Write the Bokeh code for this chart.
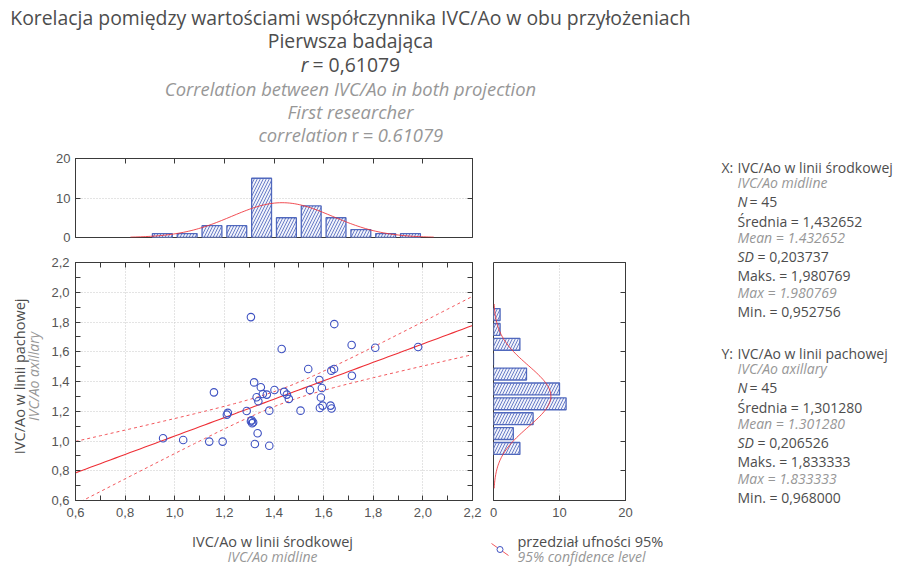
import numpy as np
from bokeh.plotting import figure
from bokeh.layouts import column, row
from bokeh.models import Range1d, FixedTicker, CustomJSTickFormatter, LinearAxis
from bokeh.core.properties import value
from bokeh.embed import file_html
from bokeh.resources import INLINE

# ---------------- data ----------------
x_midline = [0.953, 1.034, 1.139, 1.158, 1.193, 1.210, 1.214, 1.290, 1.307, 1.307,
             1.312, 1.316, 1.310, 1.320, 1.323, 1.330, 1.337, 1.334, 1.347, 1.355,
             1.371, 1.381, 1.381, 1.402, 1.431, 1.441, 1.452, 1.460, 1.507, 1.538,
             1.545, 1.583, 1.585, 1.589, 1.593, 1.596, 1.628, 1.631, 1.632, 1.642,
             1.643, 1.713, 1.714, 1.808, 1.981]
y_axillary = [1.018, 1.007, 0.996, 1.327, 0.996, 1.177, 1.189, 1.202, 1.833, 1.133,
              1.119, 1.126, 1.140, 1.394, 0.980, 1.294, 1.267, 1.052, 1.361, 1.316,
              1.312, 1.204, 0.968, 1.343, 1.618, 1.330, 1.312, 1.283, 1.204, 1.484,
              1.343, 1.410, 1.222, 1.292, 1.356, 1.238, 1.238, 1.473, 1.218, 1.484,
              1.786, 1.645, 1.439, 1.627, 1.632]

x_bin_starts = [0.9, 1.0, 1.1, 1.2, 1.3, 1.4, 1.5, 1.6, 1.7, 1.8, 1.9]
x_bin_counts = [1, 1, 3, 3, 15, 5, 8, 5, 2, 1, 1]
y_bin_starts = [0.9, 1.0, 1.1, 1.2, 1.3, 1.4, 1.5, 1.6, 1.7, 1.8]
y_bin_counts = [4, 3, 6, 11, 10, 5, 0, 4, 1, 1]
bin_width = 0.1

value_ticks = [0.6, 0.8, 1.0, 1.2, 1.4, 1.6, 1.8, 2.0, 2.2]
value_minor_ticks = [0.7, 0.9, 1.1, 1.3, 1.5, 1.7, 1.9, 2.1]
count_ticks = [0, 10, 20]

n_obs = 45
mean_x, sd_x, max_x, min_x = 1.432652, 0.203737, 1.980769, 0.952756
mean_y, sd_y, max_y, min_y = 1.301280, 0.206526, 1.833333, 0.968000
r_value = 0.61079
t_crit = 2.0167  # t(0.975, 43)

# ---------------- styles ----------------
DARK = "#4d4d4d"
GRAY = "#979797"
AX = "#3a3a3a"
TICKLAB = "#555555"
BLUE = "#3f52c2"
BAR_LINE = "#5068bd"
BAR_HATCH = "#6a7ec8"
BAR_FILL = "#f0f2fa"
RED = "#ee2f36"
RED_LIGHT = "#f2575c"
FONT = "Open Sans"
TFONT = "Liberation Sans"

comma_fmt = CustomJSTickFormatter(code="return tick.toFixed(1).replace('.', ',');")


def fmt_pl(v):
    return f"{v:.6f}".replace(".", ",")


def style_axis(ax, labels=True):
    ax.axis_line_color = AX
    ax.major_tick_line_color = AX
    ax.minor_tick_line_color = AX
    ax.major_tick_in = 5
    ax.major_tick_out = 0
    ax.minor_tick_in = 5
    ax.minor_tick_out = 0
    ax.major_label_text_font = TFONT
    ax.major_label_text_font_size = "13px"
    ax.major_label_text_color = TICKLAB
    if not labels:
        ax.formatter = CustomJSTickFormatter(code="return '';")
        ax.major_label_standoff = 0


def text_fig(w, h, flip=True):
    f = figure(width=w, height=h, x_range=Range1d(0, w),
               y_range=Range1d(h, 0) if flip else Range1d(0, h),
               output_backend="svg", toolbar_location=None, min_border=0,
               x_axis_location=None, y_axis_location=None)
    f.grid.visible = False
    f.outline_line_color = None
    f.border_fill_color = "white"
    f.background_fill_color = "white"
    return f


def put(f, x, y, s, size="14px", color=DARK, italic=False, align="left", angle=0):
    f.text(x=[x], y=[y], text=[s], text_font=value(FONT), text_font_size=size,
           text_color=color, text_align=align, text_baseline="middle",
           text_font_style="italic" if italic else "normal", angle=angle)


# ---------------- derived model curves ----------------
slope = r_value * sd_y / sd_x
intercept = mean_y - slope * mean_x
s_e = sd_y * np.sqrt((1 - r_value ** 2) * (n_obs - 1) / (n_obs - 2))
sxx = (n_obs - 1) * sd_x ** 2
reg_x = np.linspace(0.6, 2.2, 81)
reg_y = intercept + slope * reg_x
se_fit = s_e * np.sqrt(1.0 / n_obs + (reg_x - mean_x) ** 2 / sxx)
upper = reg_y + t_crit * se_fit
lower = reg_y - t_crit * se_fit

nx = np.linspace(mean_x - 3 * sd_x, mean_x + 3 * sd_x, 121)
nx_counts = n_obs * bin_width * np.exp(-0.5 * ((nx - mean_x) / sd_x) ** 2) / (sd_x * np.sqrt(2 * np.pi))
ny = np.linspace(mean_y - 3 * sd_y, mean_y + 3 * sd_y, 121)
ny_counts = n_obs * bin_width * np.exp(-0.5 * ((ny - mean_y) / sd_y) ** 2) / (sd_y * np.sqrt(2 * np.pi))

x_centers = [s + bin_width / 2 for s in x_bin_starts]
y_centers = [s + bin_width / 2 for s in y_bin_starts]

# ---------------- title ----------------
TS = "19.4px"
TI = "18.4px"
title = text_fig(900, 148)
put(title, 350, 17, "Korelacja pomiędzy wartościami współczynnika IVC/Ao w obu przyłożeniach", size=TS, align="center")
put(title, 350, 40, "Pierwsza badająca", size=TS, align="center")
put(title, 308, 64, "r", size=TS, italic=True, align="right")
put(title, 312, 64, f"= {r_value:.5f}".replace(".", ","), size=TS, align="left")
put(title, 350, 88, "Correlation between IVC/Ao in both projection", size=TI, color=GRAY, italic=True, align="center")
put(title, 350, 111, "First researcher", size=TI, color=GRAY, italic=True, align="center")
put(title, 347, 134, "correlation", size=TI, color=GRAY, italic=True, align="right")
put(title, 351, 134, "r", size=TI, color=GRAY, align="left")
put(title, 362, 134, f"= {r_value:.5f}", size=TI, color=GRAY, italic=True, align="left")

# ---------------- top histogram ----------------
top = figure(width=712, height=102, x_range=Range1d(0.6, 2.2), y_range=Range1d(0, 20),
             output_backend="svg", toolbar_location=None,
             min_border_left=75, min_border_right=240, min_border_top=10, min_border_bottom=13,
             x_axis_location="above", y_axis_location="left")
top.vbar(x=x_centers, top=x_bin_counts, bottom=0, width=0.08,
         fill_color=BAR_FILL, line_color=BAR_LINE, line_width=1.3,
         hatch_pattern="/", hatch_color=BAR_HATCH, hatch_scale=6, hatch_weight=1)
top.line(nx, nx_counts, line_color=RED, line_width=1, line_alpha=0.85)
top.xaxis.ticker = FixedTicker(ticks=value_ticks)
top.yaxis.ticker = FixedTicker(ticks=count_ticks)
style_axis(top.xaxis[0], labels=False)
style_axis(top.yaxis[0])
top.yaxis.major_label_standoff = 5
ra = LinearAxis(ticker=FixedTicker(ticks=count_ticks))
style_axis(ra, labels=False)
top.add_layout(ra, "right")
top.xgrid.visible = False
top.ygrid.ticker = FixedTicker(ticks=[10])
top.ygrid.grid_line_color = "#c8c8c8"
top.ygrid.grid_line_dash = "1 2"
top.outline_line_color = AX

# ---------------- scatter ----------------
sc = figure(width=434, height=278, x_range=Range1d(0.6, 2.2), y_range=Range1d(0.6, 2.2),
            output_backend="svg", toolbar_location=None,
            min_border_left=27, min_border_right=10, min_border_top=12, min_border_bottom=28)
sc.line(reg_x, reg_y, line_color=RED, line_width=1.1)
sc.line(reg_x, upper, line_color=RED_LIGHT, line_width=1, line_dash="3 3")
sc.line(reg_x, lower, line_color=RED_LIGHT, line_width=1, line_dash="3 3")
sc.scatter(x_midline, y_axillary, marker="circle", size=7.5, fill_color=None,
           line_color=BLUE, line_width=1.1)
for ax in (sc.xaxis[0], sc.yaxis[0]):
    ax.ticker = FixedTicker(ticks=value_ticks, minor_ticks=value_minor_ticks)
    style_axis(ax)
    ax.formatter = comma_fmt
sc.xaxis.major_label_standoff = 7
sc.yaxis.major_label_standoff = 6
for loc in ("above", "right"):
    a = LinearAxis(ticker=FixedTicker(ticks=value_ticks, minor_ticks=value_minor_ticks))
    style_axis(a, labels=False)
    sc.add_layout(a, loc)
sc.xgrid.ticker = FixedTicker(ticks=value_ticks)
sc.ygrid.ticker = FixedTicker(ticks=value_ticks)
sc.grid.grid_line_color = "#c8c8c8"
sc.grid.grid_line_dash = "1 2"
sc.outline_line_color = AX

# ---------------- right histogram ----------------
rh = figure(width=230, height=278, x_range=Range1d(0, 20), y_range=Range1d(0.6, 2.2),
            output_backend="svg", toolbar_location=None,
            min_border_left=11, min_border_right=87, min_border_top=12, min_border_bottom=28,
            x_axis_location="below", y_axis_location="right")
rh.hbar(y=y_centers, left=0, right=y_bin_counts, height=0.08,
        fill_color=BAR_FILL, line_color=BAR_LINE, line_width=1.3,
        hatch_pattern="/", hatch_color=BAR_HATCH, hatch_scale=6, hatch_weight=1)
rh.line(ny_counts, ny, line_color=RED, line_width=1, line_alpha=0.85)
rh.xaxis.ticker = FixedTicker(ticks=count_ticks)
style_axis(rh.xaxis[0])
rh.xaxis.major_label_standoff = 7
rh.yaxis.ticker = FixedTicker(ticks=value_ticks)
style_axis(rh.yaxis[0], labels=False)
rh.ygrid.visible = False
rh.xgrid.ticker = FixedTicker(ticks=[10])
rh.xgrid.grid_line_color = "#c8c8c8"
rh.xgrid.grid_line_dash = "1 2"
rh.outline_line_color = AX

# ---------------- y label ----------------
ylab = text_fig(48, 278, flip=False)
put(ylab, 19, 145, "IVC/Ao w linii pachowej", size="14.5px", align="center", angle=np.pi / 2)
put(ylab, 33, 145, "IVC/Ao axillary", size="14px", color=GRAY, italic=True, align="center", angle=np.pi / 2)

# ---------------- bottom: x label + legend ----------------
bot = text_fig(712, 38)
put(bot, 272, 13, "IVC/Ao w linii środkowej", size="14.5px", align="center")
put(bot, 272, 28, "IVC/Ao midline", size="14px", color=GRAY, italic=True, align="center")
bot.line([491, 508], [15, 27], line_color=RED_LIGHT, line_width=1)
bot.scatter([499.5], [21], marker="circle", size=6, fill_color="white", line_color=BLUE, line_width=1)
put(bot, 517, 13, "przedział ufności 95%", size="14.5px")
put(bot, 517, 28, "95% confidence level", size="14px", color=GRAY, italic=True)

# ---------------- statistics panel ----------------
st = text_fig(188, 418)
SI = "14px"


def stats_block(y0, letter, name_pl, name_en, mean, sd, mx, mn):
    ys = [y0, y0 + 15, y0 + 34, y0 + 54, y0 + 70, y0 + 89, y0 + 108, y0 + 125, y0 + 144]
    put(st, 9, ys[0], f"{letter}:")
    put(st, 25, ys[0], name_pl)
    put(st, 25, ys[1], name_en, size=SI, color=GRAY, italic=True)
    put(st, 25, ys[2], "N", italic=True)
    put(st, 37, ys[2], f"= {n_obs}")
    put(st, 25, ys[3], f"Średnia = {fmt_pl(mean)}")
    put(st, 25, ys[4], f"Mean = {mean:.6f}", size=SI, color=GRAY, italic=True)
    put(st, 25, ys[5], "SD", italic=True)
    put(st, 45, ys[5], f"= {fmt_pl(sd)}")
    put(st, 25, ys[6], f"Maks. = {fmt_pl(mx)}")
    put(st, 25, ys[7], f"Max = {mx:.6f}", size=SI, color=GRAY, italic=True)
    put(st, 25, ys[8], f"Min. = {fmt_pl(mn)}")


stats_block(19, "X", "IVC/Ao w linii środkowej", "IVC/Ao midline", mean_x, sd_x, max_x, min_x)
stats_block(205, "Y", "IVC/Ao w linii pachowej", "IVC/Ao axillary", mean_y, sd_y, max_y, min_y)

left_col = column(row(top), row(ylab, sc, rh), row(bot))
layout = column(title, row(left_col, st))

open("out.html", "w").write(file_html(layout, INLINE))
